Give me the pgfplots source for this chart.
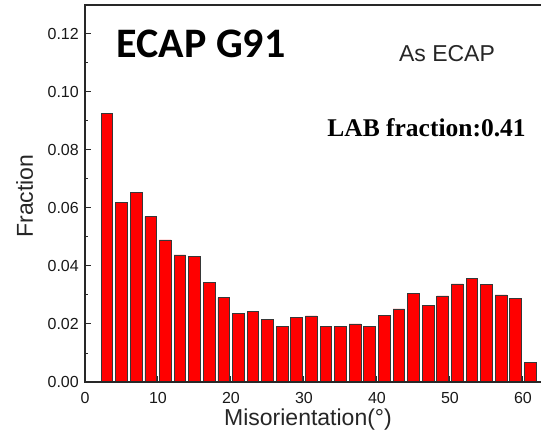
\documentclass[border=0pt]{standalone}
\usepackage{fontspec}
\setmainfont{Liberation Sans}
\newfontfamily\calibri{Carlito}
\newfontfamily\timesf{Liberation Serif}
\usepackage{pgfplots}
\pgfplotsset{compat=1.18}
\definecolor{barred}{RGB}{255,0,0}
\definecolor{edgegray}{RGB}{55,55,55}
\definecolor{spine}{RGB}{40,40,40}
\begin{document}
\begin{tikzpicture}
\useasboundingbox (-85pt,-52pt) rectangle (456pt,382pt);
\clip (-85pt,-52pt) rectangle (456pt,382pt);
\begin{axis}[
  scale only axis,
  width=456pt, height=377pt,
  xmin=0, xmax=62.47,
  ymin=0, ymax=0.13,
  axis line style={draw=none},
  tick align=inside,
  xtick pos=bottom, ytick pos=left,
  xtick={0,10,...,60},
  ytick={0,0.02,...,0.12},
  minor x tick num=1,
  minor y tick num=1,
  major tick length=6pt,
  minor tick length=3pt,
  tick style={spine, line width=1pt},
  /pgf/number format/assume math mode=true,
  ticklabel style={font=\fontsize{16}{18}\selectfont, text=black!90},
  yticklabel style={xshift=-2.7pt, /pgf/number format/.cd, fixed, fixed zerofill, precision=2},
  xticklabel style={yshift=-6.5pt},
  scaled y ticks=false,
  clip=false,
]
\addplot[ybar, bar width=1.6, bar shift=0pt, fill=barred, draw=edgegray, line width=0.7pt]
coordinates {
  (3,0.0927) (5,0.0620) (7,0.0653) (9,0.0570) (11,0.0490)
  (13,0.0438) (15,0.0432) (17,0.0342) (19,0.0291) (21,0.0237)
  (23,0.0243) (25,0.0216) (27,0.0191) (29,0.0222) (31,0.0228)
  (33,0.0191) (35,0.0191) (37,0.0200) (39,0.0191) (41,0.0231)
  (43,0.0252) (45,0.0306) (47,0.0264) (49,0.0297) (51,0.0338)
  (53,0.0358) (55,0.0337) (57,0.0300) (59,0.0287) (61,0.0067)
};
% frame: left, bottom and top spines
\draw[spine, line width=1.4pt] (rel axis cs:1.1,1) -- (rel axis cs:0,1) -- (rel axis cs:0,0) -- (rel axis cs:1.1,0);
\end{axis}
\node[anchor=base, font=\calibri\bfseries\fontsize{42}{46}\selectfont] at (116pt,324pt) {ECAP G91};
\node[anchor=base, font=\fontsize{23}{26}\selectfont, text=black!85] at (362pt,320pt) {As ECAP};
\node[anchor=base, font=\timesf\bfseries\fontsize{25.5}{28}\selectfont] at (341.5pt,245pt) {LAB fraction:0.41};
\node[anchor=base, font=\fontsize{23}{26}\selectfont, text=black!85] at (223pt,-43pt) {Misorientation(°)};
\node[anchor=base, rotate=90, font=\fontsize{23}{26}\selectfont, text=black!85] at (-52pt,186pt) {Fraction};
\end{tikzpicture}
\end{document}
